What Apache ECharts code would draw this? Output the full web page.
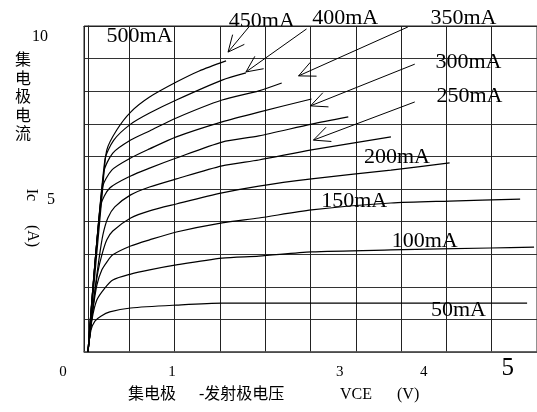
<!DOCTYPE html>
<html><head><meta charset="utf-8">
<script src="https://cdn.jsdelivr.net/npm/echarts@6/dist/echarts.min.js"></script>
<style>html,body{margin:0;padding:0;background:#fff}#c{width:537px;height:412px}</style>
</head><body><div id="c"></div>
<script>
// ---- data (VCE in volts, IC in amperes) ----
const baseCurrents = ['50mA','100mA','150mA','200mA','250mA','300mA','350mA','400mA','450mA','500mA'];
const ib50  = [[0,0],[0.036,0.67],[0.083,0.95],[0.154,1.10],[0.260,1.23],[0.509,1.35],[1.053,1.44],[1.598,1.50],[5.231,1.50]];
const ib100 = [[0,0],[0.047,0.98],[0.107,1.60],[0.201,1.96],[0.296,2.21],[0.509,2.39],[0.734,2.52],[1.053,2.67],[1.598,2.88],[2.036,2.94],[2.663,3.07],[3.609,3.13],[4.793,3.19],[5.314,3.22]];
const ib150 = [[0,0],[0.059,1.29],[0.107,2.06],[0.166,2.52],[0.225,2.76],[0.296,2.98],[0.509,3.25],[0.734,3.44],[1.053,3.68],[1.598,3.96],[2.036,4.11],[2.663,4.36],[3.609,4.57],[4.308,4.63],[5.148,4.69]];
const ib200 = [[0,0],[0.071,1.60],[0.118,2.45],[0.166,2.98],[0.225,3.44],[0.296,3.71],[0.509,4.11],[0.734,4.33],[1.053,4.54],[1.598,4.88],[2.036,5.09],[2.663,5.31],[3.609,5.58],[4.308,5.80]];
const ib250 = [[0,0],[0.083,1.90],[0.130,2.82],[0.178,3.59],[0.237,4.11],[0.320,4.45],[0.509,4.82],[0.734,5.06],[1.053,5.31],[1.598,5.71],[2.036,5.89],[2.663,6.20],[3.609,6.60]];
const ib300 = [[0,0],[0.154,4.51],[0.260,5.03],[0.509,5.40],[0.734,5.64],[1.053,5.95],[1.598,6.44],[2.036,6.63],[2.663,6.99],[3.101,7.21]];
const ib350 = [[0,0],[0.172,5.03],[0.284,5.58],[0.509,5.95],[0.734,6.23],[1.053,6.60],[1.598,7.06],[2.036,7.36],[2.663,7.76]];
const ib400 = [[0,0],[0.189,5.52],[0.296,6.10],[0.509,6.50],[0.734,6.78],[1.053,7.18],[1.598,7.73],[2.036,8.01],[2.308,8.25]];
const ib450 = [[0,0],[0.201,5.89],[0.308,6.50],[0.509,6.99],[0.734,7.33],[1.053,7.73],[1.598,8.34],[1.882,8.56]];
const ib500 = [[0,0],[0.175,5.00],[0.225,6.20],[0.343,6.81],[0.509,7.36],[0.734,7.82],[1.053,8.28],[1.325,8.62],[1.645,8.93]];
const curves = [ib50, ib100, ib150, ib200, ib250, ib300, ib350, ib400, ib450, ib500];

const xTickValues = [0, 1, 3, 4, 5];
const yTickValues = [5, 10];

// annotation anchors in data space (V, A)
const labelAnchors = {
  '500mA':[0.615,9.69], '450mA':[2.071,10.15], '400mA':[3.065,10.25], '350mA':[4.473,10.25],
  '300mA':[4.533,8.90], '250mA':[4.544,7.85], '200mA':[3.680,5.98], '150mA':[3.172,4.63],
  '100mA':[4.012,3.40], '50mA':[4.414,1.29]
};
const arrowsData = [
  [[1.917,9.97],[1.669,9.20]],
  [[2.604,9.91],[1.882,8.59]],
  [[3.811,9.97],[2.509,8.47]],
  [[3.893,8.83],[2.651,7.55]],
  [[3.893,7.67],[2.686,6.50]]
];

const SERIF = '"Liberation Serif", "Times New Roman", serif';
const CJK = '"Liberation Serif", "Noto Sans CJK SC", sans-serif';

const chart = echarts.init(document.getElementById('c'), null, {renderer:'canvas'});
const option = {
  animation: false,
  backgroundColor: '#fff',
  grid: { left: 84, top: 26, right: -3, bottom: 60, show: true, borderColor: '#222', borderWidth: 1, backgroundColor: 'transparent' },
  xAxis: [
    {
      type: 'value', min: -0.047, max: 5.349,
      axisLine: { show: true, lineStyle: { color: '#555', width: 1.5 } },
      axisTick: { show: false },
      splitLine: { show: false },
      axisLabel: {
        customValues: xTickValues, margin: 4, color: '#000',
        formatter: v => v === 0 ? '{z|0}' : (v === 5 ? '{b|5}' : '{n|' + v + '}'),
        rich: {
          n: { fontSize: 15, fontFamily: SERIF, padding: [9, 0, 0, 0], color: '#000' },
          z: { fontSize: 15, fontFamily: SERIF, padding: [9, 50, 0, 0], color: '#000' },
          b: { fontSize: 25, fontFamily: SERIF, color: '#000' }
        }
      }
    },
    {
      type: 'value', min: 0, max: 10, interval: 1, position: 'top',
      axisLine: { show: true, onZero: false, lineStyle: { color: '#222', width: 1 } },
      axisTick: { show: false }, axisLabel: { show: false },
      splitLine: { show: true, lineStyle: { color: '#222', width: 1 } }
    }
  ],
  yAxis: {
    type: 'value', min: 0, max: 10, interval: 1,
    axisLine: { show: true, lineStyle: { color: '#222', width: 1 } },
    axisTick: { show: false },
    splitLine: { show: true, lineStyle: { color: '#333', width: 1 } },
    axisLabel: {
      customValues: yTickValues, margin: 29, color: '#000',
      formatter: v => v === 10 ? '{t|10}' : '{f|' + v + '}',
      rich: {
        t: { fontSize: 16, fontFamily: SERIF, padding: [22, 7, 0, 0], color: '#000' },
        f: { fontSize: 16, fontFamily: SERIF, padding: [22, 0, 0, 0], color: '#000' }
      }
    }
  },
  series: curves.map((d, i) => ({
    name: baseCurrents[i], type: 'line', xAxisIndex: 0, yAxisIndex: 0,
    data: d, showSymbol: false, smooth: 0.25,
    lineStyle: { color: '#000', width: 1.2 }, silent: true
  }))
};
chart.setOption(option);

// annotations converted through the chart's scales
const px = p => chart.convertToPixel({ seriesIndex: 0 }, p);
const g = [];
Object.keys(labelAnchors).forEach(k => {
  const p = px(labelAnchors[k]);
  g.push({ type: 'text', x: p[0], y: p[1], silent: true,
    style: { text: k, fontSize: 22, fontFamily: SERIF, fill: '#000', align: 'center', verticalAlign: 'middle' } });
});
arrowsData.forEach(a => {
  const s = px(a[0]), t = px(a[1]);
  const dx = s[0] - t[0], dy = s[1] - t[1], L = Math.hypot(dx, dy);
  const ux = dx / L, uy = dy / L, len = 18, ang = 25 * Math.PI / 180;
  const rot = (c) => [t[0] + len * (ux * Math.cos(c) - uy * Math.sin(c)), t[1] + len * (ux * Math.sin(c) + uy * Math.cos(c))];
  g.push({ type: 'line', silent: true, shape: { x1: s[0], y1: s[1], x2: t[0], y2: t[1] }, style: { stroke: '#000', lineWidth: 1 } });
  g.push({ type: 'polyline', silent: true, shape: { points: [rot(ang), t, rot(-ang)] }, style: { stroke: '#000', lineWidth: 1, fill: null } });
});
// axis titles
g.push({ type: 'text', x: 23, y: 52, silent: true,
  style: { text: '集\n电\n极\n电\n流', fontSize: 16, lineHeight: 18.5, fontFamily: CJK, fill: '#000', align: 'center', verticalAlign: 'top' } });
g.push({ type: 'text', x: 31, y: 195, rotation: -Math.PI / 2, silent: true,
  style: { text: 'Ic', fontSize: 16, fontFamily: SERIF, fill: '#000', align: 'center', verticalAlign: 'middle' } });
g.push({ type: 'text', x: 32, y: 236, rotation: -Math.PI / 2, silent: true,
  style: { text: '(A)', fontSize: 16, fontFamily: SERIF, fill: '#000', align: 'center', verticalAlign: 'middle' } });
const xt = [['集电极', 128], ['-发射极电压', 199], ['VCE', 340], ['(V)', 397]];
xt.forEach(([t, x]) => g.push({ type: 'text', x: x, y: 395, silent: true,
  style: { text: t, fontSize: 16, fontFamily: CJK, fill: '#000', align: 'left', verticalAlign: 'middle' } }));
chart.setOption({ graphic: g });
</script></body></html>
